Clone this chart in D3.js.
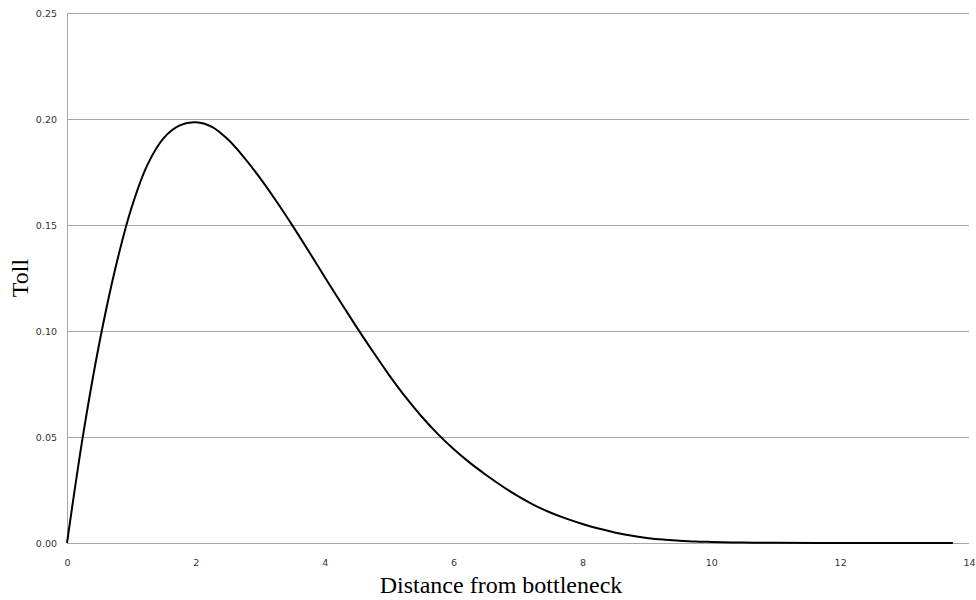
<!DOCTYPE html>
<html>
<head>
<meta charset="utf-8">
<script src="https://cdn.jsdelivr.net/npm/d3@7"></script>
<style>
  html, body { margin: 0; padding: 0; background: #fff; }
  svg { display: block; }
</style>
</head>
<body>
<svg id="chart" width="976" height="600"></svg>
<script>
// Data
const distance = [0, 0.25, 0.5, 0.75, 1.0, 1.25, 1.5, 1.75, 2.0, 2.25, 2.5, 2.75, 3.0, 3.25, 3.5, 3.75,
  4.0, 4.25, 4.5, 4.75, 5.0, 5.25, 5.5, 5.75, 6.0, 6.25, 6.5, 6.75, 7.0, 7.25, 7.5, 7.75,
  8.0, 8.25, 8.5, 8.75, 9.0, 9.25, 9.5, 9.75, 10.0, 10.5, 11.0, 12.0, 13.0, 13.75];
const toll = [0, 0.0510, 0.0940, 0.1295, 0.1580, 0.1785, 0.1910, 0.1970, 0.1985, 0.1963, 0.1903, 0.1818,
  0.1720, 0.1612, 0.1497, 0.1377, 0.1255, 0.1134, 0.1016, 0.0902, 0.0792, 0.0690, 0.0598, 0.0516,
  0.0443, 0.0379, 0.0322, 0.0269, 0.0221, 0.0179, 0.0144, 0.0115, 0.0090, 0.0068, 0.0050, 0.0035,
  0.0024, 0.0016, 0.0011, 0.0007, 0.0005, 0.0002, 0.0001, 0.00002, 0, 0];
const xTicks = [0, 2, 4, 6, 8, 10, 12, 14];
const yTicks = [0, 0.05, 0.10, 0.15, 0.20, 0.25];
const xTitle = "Distance from bottleneck";
const yTitle = "Toll";

const svg = d3.select("#chart");
const mLeft = 67, mRight = 969, mTop = 13, mBottom = 543;

const x = d3.scaleLinear().domain([0, 14]).range([mLeft, mRight]);
const y = d3.scaleLinear().domain([0, 0.25]).range([mBottom, mTop]);

// gridlines
svg.append("g").selectAll("line").data(yTicks).join("line")
  .attr("x1", mLeft).attr("x2", mRight)
  .attr("y1", d => Math.round(y(d)) + 0.5).attr("y2", d => Math.round(y(d)) + 0.5)
  .attr("stroke", "#a6a6a6").attr("stroke-width", 1);

// left axis line
svg.append("line")
  .attr("x1", mLeft + 0.5).attr("x2", mLeft + 0.5)
  .attr("y1", mTop).attr("y2", mBottom + 0.5)
  .attr("stroke", "#a6a6a6").attr("stroke-width", 1);

// y tick labels
const yAxis = d3.axisLeft(y).tickValues(yTicks).tickFormat(d3.format(".2f")).tickSize(0).tickPadding(10);
const gy = svg.append("g").attr("transform", `translate(${mLeft},0)`).call(yAxis);
gy.select(".domain").remove();
gy.selectAll("text").attr("font-family", "'DejaVu Sans', sans-serif").attr("font-size", 9.5).attr("fill", "#333");

// x tick labels
const xAxis = d3.axisBottom(x).tickValues(xTicks).tickFormat(d3.format("d")).tickSize(0).tickPadding(16);
const gx = svg.append("g").attr("transform", `translate(0,${mBottom})`).call(xAxis);
gx.select(".domain").remove();
gx.selectAll("text").attr("font-family", "'DejaVu Sans', sans-serif").attr("font-size", 9.5).attr("fill", "#333");

// curve
const pts = distance.map((d, i) => [d, toll[i]]);
const line = d3.line().x(d => x(d[0])).y(d => y(d[1])).curve(d3.curveCatmullRom.alpha(0.5));
svg.append("path").datum(pts)
  .attr("d", line)
  .attr("fill", "none")
  .attr("stroke", "#000")
  .attr("stroke-width", 2);

// titles
svg.append("text")
  .attr("x", 501).attr("y", 593)
  .attr("text-anchor", "middle")
  .attr("font-family", "'Liberation Serif', 'Times New Roman', serif")
  .attr("font-size", 24)
  .attr("fill", "#000")
  .text(xTitle);

svg.append("text")
  .attr("transform", "translate(28,278) rotate(-90)")
  .attr("text-anchor", "middle")
  .attr("font-family", "'Liberation Serif', 'Times New Roman', serif")
  .attr("font-size", 24)
  .attr("fill", "#000")
  .text(yTitle);
</script>
</body>
</html>
